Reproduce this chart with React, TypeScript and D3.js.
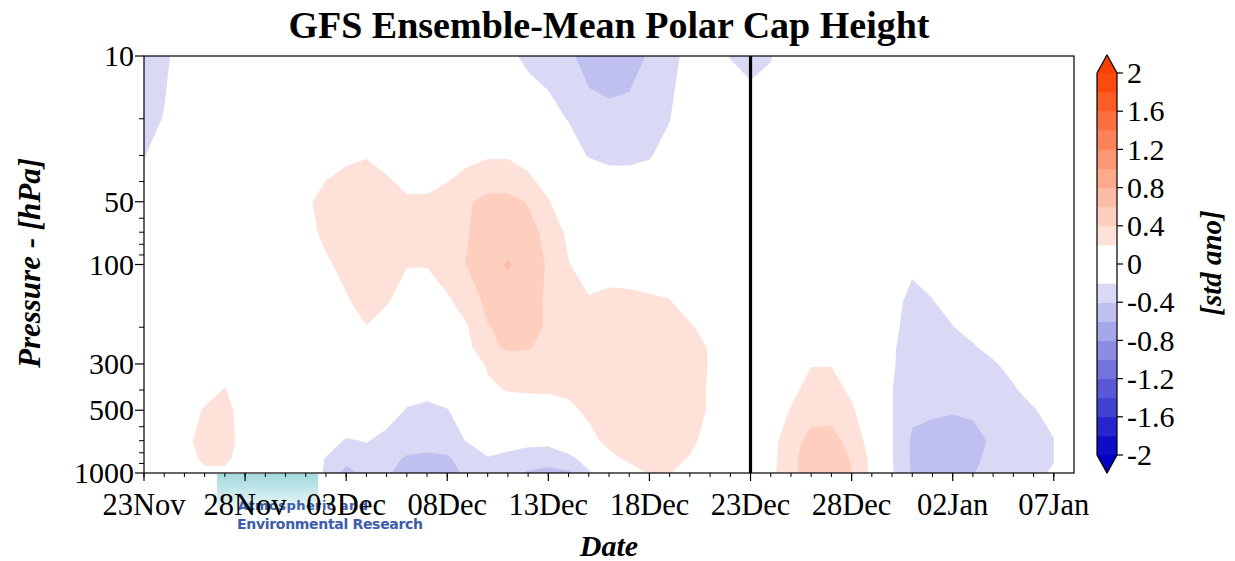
import React, { useEffect, useRef } from 'react';
import * as d3 from 'd3';

// time axis: one data column per day from 23 Nov to 07 Jan
const startDate = new Date(Date.UTC(2023, 10, 23));
const endDate = new Date(Date.UTC(2024, 0, 8));
const todayDate = new Date(Date.UTC(2023, 11, 23));

// pressure levels (rows of the field, top to bottom)
const pressureLevels = [10, 20, 30, 50, 70, 100, 150, 200, 250, 300, 400, 500, 700, 850, 1000];
const pressureTicks = [10, 50, 100, 300, 500, 1000];
const pressureMinorTicks = [20, 30, 40, 60, 70, 80, 90, 200, 400, 600, 700, 800, 900];

// contour levels (std anomaly), mirrored for negative side
const contourLevels = [0.2, 0.4, 0.6, 0.8, 1.0, 1.2, 1.4, 1.6, 1.8, 2.0];
const colorbarTicks = [2, 1.6, 1.2, 0.8, 0.4, 0, -0.4, -0.8, -1.2, -1.6, -2];

// polar cap height anomaly per pressure level, one value per day (d0 = 23Nov)
const anom10 = [
  -0.35, -0.25, -0.1, 0, 0, 0, 0, 0, 0, 0,
  0, 0, 0, 0, 0, 0, 0, -0.05, -0.15, -0.25,
  -0.3, -0.35, -0.5, -0.55, -0.48, -0.38, -0.28, -0.12, -0.05, -0.21,
  -0.3, -0.22, -0.05, 0, 0, 0, 0, 0, 0, 0,
  0, 0, 0, 0, 0, 0];
const anom20 = [
  -0.3, -0.19, -0.05, 0, 0, 0, 0, 0, 0, 0,
  0, 0, 0, 0, 0, 0, 0, 0, 0, -0.05,
  -0.12, -0.21, -0.3, -0.33, -0.34, -0.28, -0.21, -0.05, 0, -0.02,
  -0.04, -0.02, 0, 0, 0, 0, 0, 0, 0, 0,
  0, 0, 0, 0, 0, 0];
const anom30 = [
  -0.21, -0.12, -0.03, 0, 0, 0, 0, 0, 0.08, 0.13,
  0.17, 0.19, 0.15, 0.1, 0.1, 0.13, 0.14, 0.18, 0.18, 0.1,
  0.08, -0.1, -0.21, -0.25, -0.25, -0.22, -0.1, -0.02, 0, 0,
  0, 0, 0, 0, 0, 0, 0, 0, 0, 0,
  0, 0, 0, 0, 0, 0];
const anom50 = [
  -0.1, -0.05, 0, 0, 0, 0, 0, 0, 0.17, 0.26,
  0.3, 0.32, 0.27, 0.22, 0.22, 0.25, 0.38, 0.45, 0.45, 0.39,
  0.21, 0.1, 0, -0.02, -0.02, 0, 0, 0, 0, 0,
  0, 0, 0, 0, 0, 0, 0, 0, 0, 0,
  0, 0, 0, 0, 0, 0];
const anom70 = [
  0, 0, 0, 0, 0, 0, 0, 0, 0.12, 0.25,
  0.28, 0.28, 0.27, 0.25, 0.25, 0.3, 0.39, 0.5, 0.5, 0.45,
  0.36, 0.15, 0.05, 0, 0, 0, 0, 0, 0, 0,
  0, 0, 0, 0, 0, 0, 0, 0, 0, 0,
  0, 0, 0, 0, 0, 0];
const anom100 = [
  0, 0, 0, 0, 0, 0, 0, 0, 0.05, 0.17,
  0.26, 0.27, 0.25, 0.21, 0.21, 0.3, 0.41, 0.52, 0.62, 0.5,
  0.38, 0.21, 0.1, 0.15, 0.12, 0.08, 0.05, 0, 0, 0,
  0, 0, 0, 0, 0, 0, 0, -0.05, -0.16, -0.08,
  0, 0, 0, 0, 0, 0];
const anom150 = [
  0, 0, 0, 0, 0, 0, 0, 0, 0, 0.05,
  0.18, 0.27, 0.22, 0.1, 0.1, 0.17, 0.28, 0.45, 0.5, 0.5,
  0.36, 0.3, 0.22, 0.23, 0.24, 0.23, 0.21, 0.12, 0.03, 0,
  0, 0, 0, 0, 0, 0, 0, -0.12, -0.26, -0.21,
  -0.1, 0, 0, 0, 0, 0];
const anom200 = [
  0, 0, 0, 0, 0, 0, 0, 0, 0, 0.02,
  0.1, 0.195, 0.1, 0.05, 0.05, 0.1, 0.19, 0.39, 0.45, 0.45,
  0.38, 0.3, 0.28, 0.27, 0.27, 0.27, 0.27, 0.22, 0.15, 0,
  0, 0, 0, 0, 0, 0, 0, -0.15, -0.28, -0.26,
  -0.21, -0.1, 0, 0, 0, 0];
const anom250 = [
  0, 0, 0, 0, 0, 0, 0, 0, 0, 0,
  0, 0.05, 0, 0, 0, 0.05, 0.15, 0.35, 0.43, 0.42,
  0.33, 0.3, 0.3, 0.3, 0.3, 0.3, 0.3, 0.26, 0.19, 0.05,
  0, 0, 0, 0, 0, 0, 0, -0.17, -0.3, -0.28,
  -0.26, -0.23, -0.12, 0, 0, 0];
const anom300 = [
  0, 0, 0, 0, 0.12, 0.05, 0, 0, 0, 0,
  0, 0, 0, 0, 0, 0, 0.1, 0.22, 0.3, 0.3,
  0.28, 0.28, 0.3, 0.3, 0.3, 0.3, 0.29, 0.27, 0.19, 0.05,
  0, 0, 0.05, 0.19, 0.19, 0.05, 0, -0.18, -0.3, -0.3,
  -0.28, -0.27, -0.23, -0.12, -0.05, 0];
const anom400 = [
  0, 0, 0, 0.12, 0.21, 0.1, 0, 0, 0, 0,
  0, 0, 0, -0.14, -0.15, -0.1, 0.05, 0.17, 0.21, 0.22,
  0.22, 0.24, 0.27, 0.28, 0.28, 0.28, 0.28, 0.28, 0.18, 0.05,
  0, 0, 0.15, 0.27, 0.28, 0.16, 0.02, -0.19, -0.32, -0.33,
  -0.32, -0.3, -0.28, -0.23, -0.1, 0];
const anom500 = [
  0, 0, 0.08, 0.22, 0.26, 0.12, 0, 0, 0, 0,
  0, 0, -0.12, -0.21, -0.24, -0.21, -0.1, 0.05, 0.1, 0.1,
  0.12, 0.15, 0.24, 0.28, 0.3, 0.3, 0.3, 0.28, 0.18, 0.05,
  0, 0.05, 0.21, 0.3, 0.32, 0.23, 0.08, -0.19, -0.36, -0.38,
  -0.39, -0.38, -0.33, -0.28, -0.22, -0.1];
const anom700 = [
  0, 0, 0.14, 0.28, 0.28, 0.12, 0, 0, 0, -0.1,
  -0.22, -0.19, -0.25, -0.3, -0.32, -0.28, -0.19, -0.1, -0.12, -0.14,
  -0.14, -0.05, 0.14, 0.25, 0.28, 0.3, 0.3, 0.25, 0.12, 0.02,
  0, 0.13, 0.3, 0.48, 0.48, 0.32, 0.12, -0.19, -0.43, -0.45,
  -0.46, -0.44, -0.38, -0.32, -0.27, -0.21];
const anom850 = [
  0, 0, 0.1, 0.25, 0.25, 0.1, 0, 0, -0.05, -0.21,
  -0.33, -0.28, -0.34, -0.42, -0.44, -0.43, -0.3, -0.21, -0.25, -0.3,
  -0.32, -0.25, -0.12, 0.15, 0.24, 0.27, 0.26, 0.19, 0.08, 0,
  0, 0.12, 0.35, 0.5, 0.5, 0.39, 0.15, -0.19, -0.43, -0.46,
  -0.46, -0.43, -0.36, -0.3, -0.26, -0.21];
const anom1000 = [
  0, 0, 0.05, 0.15, 0.15, 0.05, 0, 0, -0.1, -0.22,
  -0.47, -0.35, -0.38, -0.45, -0.46, -0.44, -0.38, -0.3, -0.35, -0.42,
  -0.45, -0.43, -0.22, -0.1, 0.1, 0.22, 0.21, 0.1, 0, 0,
  0, 0.14, 0.35, 0.5, 0.5, 0.41, 0.16, -0.18, -0.42, -0.44,
  -0.44, -0.41, -0.34, -0.28, -0.24, -0.18];

const anomalyRows = [anom10, anom20, anom30, anom50, anom70, anom100, anom150, anom200,
  anom250, anom300, anom400, anom500, anom700, anom850, anom1000];

const serif = '"Liberation Serif", "Times New Roman", serif';

const redEnd = d3.interpolateRgb('#ffffff', 'rgb(250,64,0)');
const blueEnd = d3.interpolateRgb('#ffffff', 'rgb(0,0,195)');
// k = band index away from zero (1 = 0.2..0.4)
const bandColor = (k: number, positive: boolean) => {
  const t = k >= 10 ? 1 : 0.05 + 0.1 * k;
  return positive ? redEnd(t) : blueEnd(t);
};

const App = () => {
  const chartRef = useRef<SVGSVGElement>(null);

  useEffect(() => {
    const margin = { top: 56, right: 161, bottom: 88, left: 144 };
    const W = 1235, H = 561;
    const width = W - margin.left - margin.right;
    const height = H - margin.top - margin.bottom;

    const svg = d3.select(chartRef.current);
    svg.selectAll('*').remove();
    svg.attr('width', W).attr('height', H);

    svg.append('rect').attr('width', W).attr('height', H).attr('fill', '#fff');

    const x = d3.scaleUtc().domain([startDate, endDate]).range([margin.left, margin.left + width]);
    const y = d3.scaleLog().domain([10, 1000]).range([margin.top, margin.top + height]);

    const nx = anom10.length;
    const ny = pressureLevels.length;
    const values = anomalyRows.flat();

    // grid index -> pixel
    const px = (fx: number) => x(d3.utcHour.offset(startDate, fx * 24));
    const py = (fy: number) => {
      const j0 = Math.floor(fy);
      const j1 = Math.min(j0 + 1, ny - 1);
      const t = fy - j0;
      const lp = Math.log(pressureLevels[j0]) * (1 - t) + Math.log(pressureLevels[j1]) * t;
      return y(Math.exp(lp));
    };
    const proj = d3.geoTransform({
      point(cx: number, cy: number) {
        const fx = Math.max(0, Math.min(nx - 1, cx - 0.5));
        const fy = Math.max(0, Math.min(ny - 1, cy - 0.5));
        (this as any).stream.point(px(fx), py(fy));
      },
    });
    const path = d3.geoPath(proj);

    const contours = d3.contours().size([nx, ny]).thresholds(contourLevels);
    const fills = svg.append('g');

    const pos = contours(values);
    pos.forEach((c, i) => {
      fills.append('path').attr('d', path(c as any)).attr('fill', bandColor(i + 1, true));
    });
    const neg = contours(values.map(v => -v));
    neg.forEach((c, i) => {
      fills.append('path').attr('d', path(c as any)).attr('fill', bandColor(i + 1, false));
    });

    // vertical line at the forecast start
    svg.append('line')
      .attr('x1', x(todayDate)).attr('x2', x(todayDate))
      .attr('y1', margin.top).attr('y2', margin.top + height)
      .attr('stroke', '#000').attr('stroke-width', 3.2);

    // frame
    svg.append('rect')
      .attr('x', margin.left).attr('y', margin.top)
      .attr('width', width).attr('height', height)
      .attr('fill', 'none').attr('stroke', '#000').attr('stroke-width', 1.2);

    // logo watermark
    const grad = svg.append('defs').append('linearGradient')
      .attr('id', 'aerGrad').attr('x1', 0).attr('y1', 0).attr('x2', 0).attr('y2', 1);
    grad.append('stop').attr('offset', '0%').attr('stop-color', '#a3d9de');
    grad.append('stop').attr('offset', '100%').attr('stop-color', '#eef8f8');
    svg.append('rect').attr('x', 217).attr('y', margin.top + height + 1)
      .attr('width', 101).attr('height', 36).attr('fill', 'url(#aerGrad)');
    svg.append('text').attr('x', 238).attr('y', 510)
      .attr('font-family', '"DejaVu Sans", sans-serif').attr('font-weight', 'bold')
      .attr('font-size', 13).attr('fill', '#3d5caa').attr('textLength', 130)
      .text('Atmospheric and');
    svg.append('text').attr('x', 237).attr('y', 529)
      .attr('font-family', '"DejaVu Sans", sans-serif').attr('font-weight', 'bold')
      .attr('font-size', 14).attr('fill', '#3d5caa').attr('textLength', 186)
      .text('Environmental Research');

    // x axis
    const majorDays = d3.range(0, 46, 5).map(d => d3.utcDay.offset(startDate, d));
    const minorDays = d3.utcDay.range(startDate, endDate);
    const xAxis = svg.append('g');
    xAxis.selectAll('.minor').data(minorDays).enter().append('line')
      .attr('x1', d => x(d)).attr('x2', d => x(d))
      .attr('y1', margin.top + height).attr('y2', margin.top + height + 4)
      .attr('stroke', '#000').attr('stroke-width', 1);
    xAxis.selectAll('.major').data(majorDays).enter().append('line')
      .attr('x1', d => x(d)).attr('x2', d => x(d))
      .attr('y1', margin.top + height).attr('y2', margin.top + height + 8)
      .attr('stroke', '#000').attr('stroke-width', 1.2);
    const fmt = d3.utcFormat('%d%b');
    xAxis.selectAll('.lab').data(majorDays).enter().append('text')
      .attr('x', d => x(d)).attr('y', 515)
      .attr('text-anchor', 'middle')
      .attr('font-family', serif).attr('font-size', 30.5)
      .text(d => fmt(d));

    // y axis
    const yAxis = svg.append('g');
    yAxis.selectAll('.minor').data(pressureMinorTicks).enter().append('line')
      .attr('x1', margin.left - 5).attr('x2', margin.left)
      .attr('y1', d => y(d)).attr('y2', d => y(d))
      .attr('stroke', '#000').attr('stroke-width', 1);
    yAxis.selectAll('.major').data(pressureTicks).enter().append('line')
      .attr('x1', margin.left - 9).attr('x2', margin.left)
      .attr('y1', d => y(d)).attr('y2', d => y(d))
      .attr('stroke', '#000').attr('stroke-width', 1.2);
    yAxis.selectAll('.lab').data(pressureTicks).enter().append('text')
      .attr('x', margin.left - 10).attr('y', d => y(d)).attr('dy', '0.34em')
      .attr('text-anchor', 'end')
      .attr('font-family', serif).attr('font-size', 30)
      .text(d => d);

    // titles
    svg.append('text').attr('x', 609).attr('y', 38).attr('text-anchor', 'middle')
      .attr('font-family', serif).attr('font-weight', 'bold').attr('font-size', 38)
      .text('GFS Ensemble-Mean Polar Cap Height');
    svg.append('text').attr('x', 609).attr('y', 556).attr('text-anchor', 'middle')
      .attr('font-family', serif).attr('font-weight', 'bold').attr('font-style', 'italic')
      .attr('font-size', 30).text('Date');
    svg.append('text').attr('transform', 'translate(40,263) rotate(-90)')
      .attr('text-anchor', 'middle')
      .attr('font-family', serif).attr('font-weight', 'bold').attr('font-style', 'italic')
      .attr('font-size', 31).text('Pressure - [hPa]');

    // colorbar
    const cbLeft = 1097, cbW = 20;
    const cb = d3.scaleLinear().domain([-2, 2]).range([455, 73]);
    const cbG = svg.append('g');
    const bands = d3.range(20).map(i => -2 + 0.2 * i);
    cbG.selectAll('.band').data(bands).enter().append('rect')
      .attr('x', cbLeft).attr('width', cbW)
      .attr('y', d => cb(d + 0.2)).attr('height', d => cb(d) - cb(d + 0.2) + 0.5)
      .attr('fill', d => {
        const lo = Math.round(d * 5), hi = lo + 1;
        if (lo >= 1) return bandColor(lo, true);
        if (hi <= -1) return bandColor(-hi, false);
        return '#ffffff';
      });
    const tip = 18;
    cbG.append('path')
      .attr('d', `M${cbLeft},${cb(2)} L${cbLeft + cbW / 2},${cb(2) - tip} L${cbLeft + cbW},${cb(2)} Z`)
      .attr('fill', bandColor(10, true));
    cbG.append('path')
      .attr('d', `M${cbLeft},${cb(-2)} L${cbLeft + cbW / 2},${cb(-2) + tip} L${cbLeft + cbW},${cb(-2)} Z`)
      .attr('fill', bandColor(10, false));
    cbG.append('path')
      .attr('d', `M${cbLeft},${cb(2)} L${cbLeft + cbW / 2},${cb(2) - tip} L${cbLeft + cbW},${cb(2)}
        L${cbLeft + cbW},${cb(-2)} L${cbLeft + cbW / 2},${cb(-2) + tip} L${cbLeft},${cb(-2)} Z`)
      .attr('fill', 'none').attr('stroke', '#000').attr('stroke-width', 1.2);
    cbG.selectAll('.tick').data(colorbarTicks).enter().append('line')
      .attr('x1', cbLeft + cbW).attr('x2', cbLeft + cbW + 6)
      .attr('y1', d => cb(d)).attr('y2', d => cb(d))
      .attr('stroke', '#000').attr('stroke-width', 1.2);
    cbG.selectAll('.lab').data(colorbarTicks).enter().append('text')
      .attr('x', cbLeft + cbW + 10).attr('y', d => cb(d)).attr('dy', '0.34em')
      .attr('font-family', serif).attr('font-size', 30)
      .text(d => String(d));
    svg.append('text').attr('transform', 'translate(1221,263) rotate(-90)')
      .attr('text-anchor', 'middle')
      .attr('font-family', serif).attr('font-weight', 'bold').attr('font-style', 'italic')
      .attr('font-size', 29).text('[std ano]');
  }, []);

  return <svg ref={chartRef} style={{ position: 'absolute', left: 0, top: 0 }}></svg>;
};

export default App;
